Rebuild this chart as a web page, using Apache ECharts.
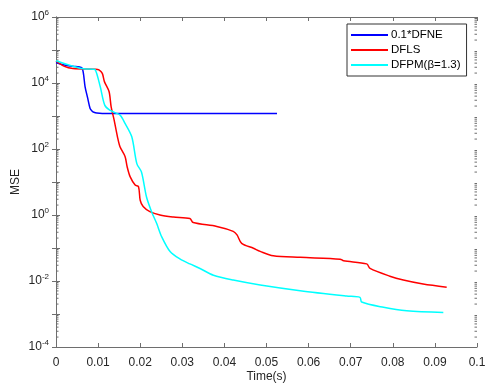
<!DOCTYPE html>
<html>
<head>
<meta charset="utf-8">
<script src="https://cdn.jsdelivr.net/npm/echarts@6/dist/echarts.min.js"></script>
<style>
  html, body { margin: 0; padding: 0; background: #fff; }
  #chart { width: 485px; height: 386px; }
</style>
</head>
<body>
<div id="chart"></div>
<script>
// Convergence of MSE over time for three solvers
const seriesNames = ['0.1*DFNE', 'DFLS', 'DFPM(\u03b2=1.3)'];

const dfneTime = [0, 0.002, 0.004, 0.0061, 0.0065, 0.0069, 0.0075, 0.0081, 0.0086, 0.009, 0.0097, 0.011, 0.02, 0.03, 0.04, 0.0525];
const dfneMse  = [4.2e4, 3.5e4, 3.2e4, 2.9e4, 2.0e4, 7.8e3, 3.6e3, 1.7e3, 1.4e3, 1.3e3, 1.23e3, 1.2e3, 1.2e3, 1.2e3, 1.2e3, 1.2e3];

const dflsTime = [0, 0.002, 0.004, 0.0093, 0.0102, 0.011, 0.0115, 0.0126, 0.0131, 0.0138, 0.0146, 0.0152, 0.0164, 0.0169, 0.0176, 0.0188, 0.0196, 0.0200, 0.0207, 0.0223, 0.0247, 0.0279, 0.0318, 0.0326, 0.0382, 0.0421, 0.0430, 0.0441, 0.0469, 0.0485, 0.0516, 0.058, 0.0675, 0.0683, 0.0738, 0.0746, 0.0793, 0.0825, 0.0872, 0.0928];
const dflsMse  = [4.7e4, 3.2e4, 2.75e4, 2.6e4, 2.5e4, 1.95e4, 1.1e4, 5.5e3, 1.9e3, 760, 234, 117, 59, 29, 14.5, 8.1, 7.2, 2.8, 1.8, 1.26, 1.0, 0.87, 0.78, 0.59, 0.45, 0.32, 0.25, 0.138, 0.098, 0.079, 0.058, 0.052, 0.046, 0.041, 0.033, 0.024, 0.014, 0.0107, 0.0081, 0.0065];

const dfpmTime = [0, 0.0057, 0.0089, 0.0093, 0.0105, 0.0116, 0.0128, 0.014, 0.0152, 0.0164, 0.018, 0.0192, 0.0203, 0.0215, 0.0227, 0.0239, 0.0251, 0.0271, 0.0295, 0.0318, 0.0342, 0.0374, 0.0421, 0.0485, 0.058, 0.069, 0.0722, 0.0726, 0.0778, 0.0833, 0.092];
const dfpmMse  = [4.7e4, 2.8e4, 2.6e4, 2.55e4, 7.8e3, 2.1e3, 1.5e3, 1.26e3, 1.07e3, 600, 234, 36, 20, 3.5, 1.26, 0.56, 0.22, 0.078, 0.046, 0.033, 0.024, 0.015, 0.0107, 0.0076, 0.0051, 0.0035, 0.0032, 0.0023, 0.0016, 0.00126, 0.00112];

const xTickLabels = ['0', '0.01', '0.02', '0.03', '0.04', '0.05', '0.06', '0.07', '0.08', '0.09', '0.1'];
const yDecades = [-4, -3, -2, -1, 0, 1, 2, 3, 4, 5];
const minorMultipliers = [2, 3, 4, 5, 6, 7, 8, 9];
const colors = ['#0000ff', '#ff0000', '#00ffff'];

function pairs(t, v) { return t.map((x, i) => [x, v[i]]); }

// minor tick values on the log axis: 2..9 x 10^k
const minorTickValues = [];
yDecades.forEach(k => minorMultipliers.forEach(m => minorTickValues.push([0, m * Math.pow(10, k)])));

const axisGray = '#6e6e6e';
const labelColor = '#262626';
const font = 'Liberation Sans, Arial, sans-serif';

const chart = echarts.init(document.getElementById('chart'), null, { renderer: 'canvas' });

const yLabel = {
  color: labelColor, fontFamily: font, fontSize: 12, margin: 7,
  formatter: function (v) {
    const e = Math.round(Math.log10(v));
    if (e % 2 !== 0) return '';
    return '10{e|' + e + '}';
  },
  rich: { e: { fontSize: 8, fontFamily: font, color: labelColor, padding: [0, 0, 9, 0] } }
};

function lineSeries(i, t, v) {
  return {
    name: seriesNames[i], type: 'line', data: pairs(t, v),
    showSymbol: false, smooth: 0.3, z: 3,
    itemStyle: { color: colors[i] },
    lineStyle: { width: 1.5, color: colors[i] }
  };
}

chart.setOption({
  animation: false,
  backgroundColor: '#fff',
  grid: { left: 56, right: 8, top: 17, bottom: 39, containLabel: false, outerBoundsMode: 'none' },
  legend: {
    orient: 'vertical', left: 347, top: 24,
    data: seriesNames,
    icon: 'rect', itemWidth: 37, itemHeight: 2, itemGap: 3,
    padding: [5, 6, 5, 4],
    borderColor: '#333', borderWidth: 1, backgroundColor: '#fff',
    textStyle: { fontFamily: font, fontSize: 11.5, color: '#000', padding: [0, 0, 0, -2] }
  },
  xAxis: [{
    type: 'value', min: 0, max: 0.1, interval: 0.01,
    name: 'Time(s)', nameLocation: 'middle', nameGap: 24, nameMoveOverlap: false,
    nameTextStyle: { fontFamily: font, fontSize: 12, color: labelColor },
    axisLine: { show: true, lineStyle: { color: axisGray } },
    axisTick: { show: true, inside: true, length: 4, lineStyle: { color: axisGray } },
    axisLabel: { color: labelColor, fontFamily: font, fontSize: 12, margin: 10,
      formatter: function (v) { return xTickLabels[Math.round(v * 100)]; } },
    splitLine: { show: false }
  }, {
    type: 'value', min: 0, max: 0.1, interval: 0.01, position: 'top',
    axisLine: { show: true, onZero: false, lineStyle: { color: axisGray } },
    axisTick: { show: true, inside: true, length: 4, lineStyle: { color: axisGray } },
    axisLabel: { show: false }, splitLine: { show: false }
  }],
  yAxis: [{
    type: 'log', logBase: 10, min: 1e-4, max: 1e6, interval: 1,
    name: 'MSE', nameLocation: 'middle', nameGap: 34, nameMoveOverlap: false,
    nameTextStyle: { fontFamily: font, fontSize: 12, color: labelColor },
    axisLine: { show: true, lineStyle: { color: axisGray } },
    axisTick: { show: true, inside: true, length: 4, lineStyle: { color: axisGray } },
    axisLabel: yLabel,
    splitLine: { show: false }
  }, {
    type: 'log', logBase: 10, min: 1e-4, max: 1e6, interval: 1, position: 'right',
    axisLine: { show: true, lineStyle: { color: axisGray } },
    axisTick: { show: true, inside: true, length: 4, lineStyle: { color: axisGray } },
    axisLabel: { show: false }, splitLine: { show: false }
  }],
  series: [
    {
      // log-spaced minor ticks on both vertical edges
      type: 'custom', silent: true, xAxisIndex: 0, yAxisIndex: 0, clip: false, z: 1,
      data: minorTickValues,
      renderItem: function (params, api) {
        const v = api.value(1);
        const l = api.coord([0, v]);
        const r = api.coord([0.1, v]);
        const st = { stroke: axisGray, lineWidth: 1 };
        return {
          type: 'group',
          children: [
            { type: 'line', shape: { x1: l[0], y1: l[1], x2: l[0] + 2.5, y2: l[1] }, style: st },
            { type: 'line', shape: { x1: r[0], y1: r[1], x2: r[0] - 2.5, y2: r[1] }, style: st }
          ]
        };
      }
    },
    lineSeries(0, dfneTime, dfneMse),
    lineSeries(1, dflsTime, dflsMse),
    lineSeries(2, dfpmTime, dfpmMse)
  ]
});
</script>
</body>
</html>
